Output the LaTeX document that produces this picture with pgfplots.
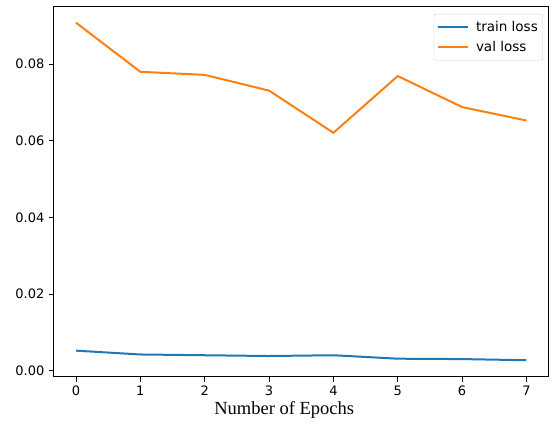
\documentclass[border=0pt]{standalone}
\usepackage{pgfplots}
\pgfplotsset{compat=1.18}
\usepackage{fontspec}
\setmainfont{DejaVu Sans}
\newfontfamily\serifface{Liberation Serif}
\definecolor{tabblue}{HTML}{1F77B4}
\definecolor{taborange}{HTML}{FF7F0E}
\begin{document}
\begin{tikzpicture}
\begin{axis}[
  scale only axis,
  width=495.5pt, height=370pt,
  xmin=-0.35, xmax=7.35,
  ymin=-0.00157, ymax=0.0949,
  xtick={0,1,2,3,4,5,6,7},
  ytick={0,0.02,0.04,0.06,0.08},
  axis line style={line width=1pt},
  tick style={line width=1pt, black},
  major tick length=4.6pt,
  tick align=outside,
  xtick pos=bottom, ytick pos=left,
  /pgf/number format/assume math mode=true,
  yticklabel style={/pgf/number format/fixed, /pgf/number format/fixed zerofill, /pgf/number format/precision=2, xshift=-1pt},
  scaled y ticks=false,
  tick label style={font=\fontsize{13}{15}\selectfont},
  xticklabel style={yshift=-1pt},
  xlabel={Number of Epochs},
  xlabel style={font=\serifface\fontsize{18.5}{20}\selectfont, at={(axis description cs:0.5,0)}, anchor=base, yshift=-38pt, xshift=-17pt},
  legend style={at={(rel axis cs:1,1)}, xshift=-6pt, yshift=-7pt, anchor=north east,
    draw=black!20, rounded corners=2pt, fill=white,
    font=\fontsize{13.5}{15}\selectfont, row sep=4.5pt, inner xsep=3pt, inner ysep=5pt,
    /tikz/every odd column/.append style={column sep=5pt}},
  legend cell align=left,
  legend image code/.code={\draw[#1] (0pt,0pt) -- (30pt,0pt);},
]
\addplot[tabblue, line width=2pt] coordinates {
  (0,0.0053) (1,0.0043) (2,0.0041) (3,0.0039) (4,0.0041) (5,0.0032) (6,0.0031) (7,0.0028)
};
\addlegendentry{train loss}
\addplot[taborange, line width=2pt] coordinates {
  (0,0.0908) (1,0.0780) (2,0.0772) (3,0.0731) (4,0.0621) (5,0.0769) (6,0.0688) (7,0.0653)
};
\addlegendentry{val loss}
\end{axis}
\pgfresetboundingbox
\path (current axis.south west) ++(-53.5pt,-48pt) rectangle ++(552pt,425pt);
\end{tikzpicture}
\end{document}
